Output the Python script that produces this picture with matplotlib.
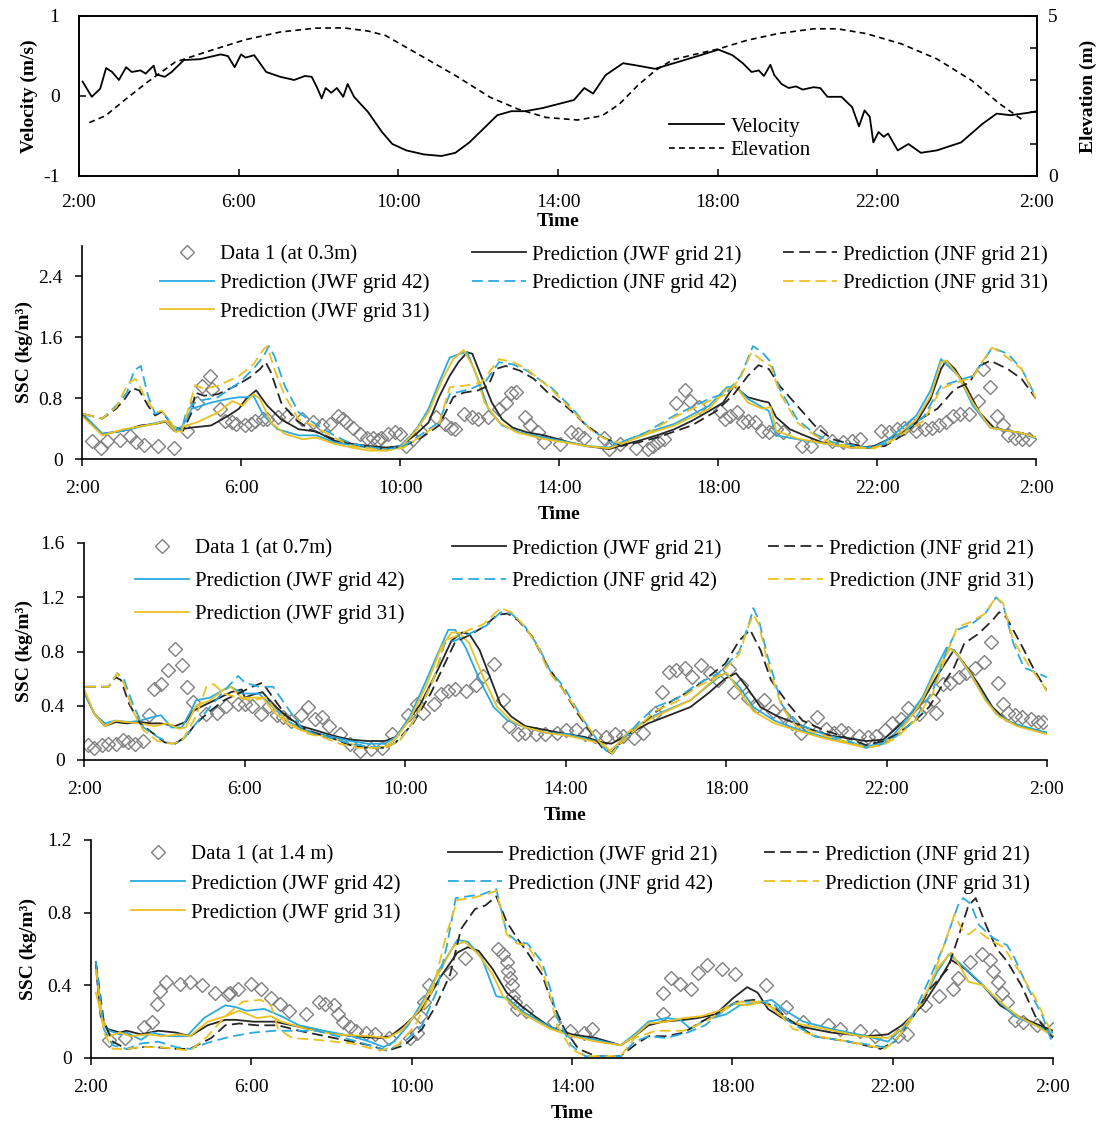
import matplotlib
matplotlib.use('Agg')
import matplotlib.pyplot as plt

plt.rcParams['font.family'] = ['Liberation Serif', 'DejaVu Serif']

W, H = 1101, 1126

# time axis: hours after 2:00
hour_ticks = [0, 4, 8, 12, 16, 20, 24]
hour_labels = ['2:00', '6:00', '10:00', '14:00', '18:00', '22:00', '2:00']

# ---- top panel: tidal velocity (m/s) and elevation (m)
velocity = [(0.09, 0.18), (0.32, -0.01), (0.53, 0.09), (0.68, 0.35), (0.83, 0.30), (1.0, 0.2),
            (1.18, 0.36), (1.32, 0.30), (1.54, 0.32), (1.67, 0.28), (1.87, 0.38), (1.93, 0.27),
            (2.15, 0.24), (2.32, 0.30), (2.63, 0.45), (3.03, 0.46), (3.55, 0.52), (3.73, 0.50),
            (3.9, 0.36), (4.06, 0.52), (4.17, 0.48), (4.39, 0.51), (4.69, 0.30), (5.04, 0.24),
            (5.39, 0.20), (5.66, 0.25), (5.83, 0.24), (5.96, 0.11), (6.08, -0.03), (6.18, 0.10),
            (6.32, 0.04), (6.46, 0.10), (6.62, -0.01), (6.73, 0.15), (6.89, -0.01), (7.24, -0.20),
            (7.59, -0.45), (7.85, -0.60), (8.2, -0.68), (8.64, -0.73), (9.08, -0.75), (9.43, -0.71),
            (9.78, -0.58), (10.13, -0.41), (10.48, -0.24), (10.83, -0.19), (11.18, -0.19),
            (11.62, -0.15), (12.4, -0.05), (12.66, 0.10), (12.88, 0.03), (13.19, 0.26), (13.63, 0.41),
            (13.99, 0.38), (14.43, 0.34), (15.04, 0.43), (15.57, 0.51), (16.02, 0.58), (16.37, 0.51),
            (16.63, 0.41), (16.85, 0.30), (17.03, 0.32), (17.16, 0.25), (17.32, 0.39), (17.42, 0.26),
            (17.6, 0.15), (17.78, 0.10), (17.96, 0.12), (18.13, 0.08), (18.4, 0.11), (18.57, 0.10),
            (18.75, -0.01), (19.1, -0.01), (19.37, -0.14), (19.54, -0.38), (19.68, -0.18),
            (19.81, -0.26), (19.9, -0.58), (20.03, -0.45), (20.16, -0.51), (20.27, -0.47),
            (20.51, -0.68), (20.78, -0.60), (21.09, -0.71), (21.49, -0.68), (22.1, -0.58),
            (22.63, -0.35), (22.99, -0.22), (23.34, -0.24), (23.78, -0.21), (24.0, -0.19)]
elevation = [(0.26, 1.67), (0.66, 1.88), (1.18, 2.41), (1.71, 2.93), (2.41, 3.56), (3.29, 3.92),
             (4.17, 4.26), (5.04, 4.50), (5.92, 4.62), (6.62, 4.63), (7.24, 4.53), (7.68, 4.39),
             (8.55, 3.77), (9.43, 3.14), (10.3, 2.46), (11.0, 2.09), (11.7, 1.83), (12.49, 1.75),
             (13.1, 1.88), (13.54, 2.25), (13.99, 2.82), (14.43, 3.29), (14.87, 3.63), (15.49, 3.82),
             (16.02, 3.97), (16.73, 4.24), (17.51, 4.45), (18.4, 4.60), (19.0, 4.60), (19.72, 4.45),
             (20.6, 4.13), (21.49, 3.66), (22.37, 2.98), (23.07, 2.25), (23.69, 1.71)]

# ---- SSC at 0.3 m
d03_data = [(0.26, 0.24), (0.47, 0.15), (0.64, 0.23), (0.95, 0.25), (1.22, 0.30), (1.35, 0.22),
            (1.57, 0.18), (1.92, 0.17), (2.32, 0.14), (2.63, 0.37), (2.89, 0.74), (3.03, 0.96),
            (3.23, 1.09), (3.27, 0.92), (3.47, 0.66), (3.60, 0.50), (3.78, 0.48), (3.88, 0.46),
            (4.09, 0.44), (4.24, 0.46), (4.35, 0.50), (4.55, 0.52), (4.66, 0.52), (4.92, 0.55),
            (5.15, 0.57), (5.54, 0.52), (5.81, 0.48), (6.03, 0.44), (6.25, 0.46), (6.43, 0.57),
            (6.56, 0.52), (6.65, 0.48), (6.82, 0.41), (7.00, 0.33), (7.18, 0.28), (7.31, 0.27),
            (7.44, 0.25), (7.53, 0.28), (7.71, 0.33), (7.88, 0.36), (8.01, 0.33), (8.15, 0.17),
            (8.32, 0.26), (8.50, 0.37), (8.90, 0.55), (9.12, 0.46), (9.29, 0.41), (9.38, 0.40),
            (9.60, 0.59), (9.82, 0.55), (9.96, 0.52), (10.22, 0.55), (10.49, 0.66), (10.66, 0.74),
            (10.79, 0.87), (10.93, 0.88), (11.15, 0.55), (11.28, 0.44), (11.46, 0.35), (11.63, 0.22),
            (12.03, 0.20), (12.29, 0.35), (12.47, 0.33), (12.64, 0.28), (13.13, 0.28), (13.26, 0.13),
            (13.53, 0.20), (13.93, 0.15), (14.23, 0.13), (14.37, 0.17), (14.5, 0.22), (14.63, 0.26),
            (14.94, 0.74), (15.16, 0.90), (15.3, 0.76), (15.52, 0.68), (16.05, 0.63), (16.18, 0.52),
            (16.31, 0.57), (16.49, 0.61), (16.62, 0.48), (16.75, 0.50), (16.93, 0.48), (17.11, 0.37),
            (17.28, 0.35), (17.46, 0.39), (17.64, 0.35), (18.12, 0.17), (18.34, 0.17), (18.56, 0.35),
            (18.87, 0.24), (19.14, 0.22), (19.36, 0.24), (19.58, 0.26), (20.11, 0.37), (20.29, 0.35),
            (20.51, 0.39), (20.68, 0.41), (20.9, 0.44), (20.99, 0.37), (21.21, 0.39), (21.39, 0.41),
            (21.57, 0.44), (21.74, 0.48), (21.92, 0.57), (22.1, 0.59), (22.32, 0.59), (22.54, 0.76),
            (22.67, 1.18), (22.85, 0.94), (23.02, 0.57), (23.16, 0.44), (23.29, 0.31), (23.47, 0.28),
            (23.64, 0.26), (23.82, 0.26)]
d03_jwf21 = [(0.03, 0.57), (0.51, 0.33), (1.04, 0.37), (1.48, 0.44), (1.84, 0.46), (2.1, 0.49),
             (2.32, 0.37), (2.5, 0.39), (2.72, 0.41), (3.25, 0.44), (3.69, 0.57), (3.95, 0.66),
             (4.13, 0.79), (4.38, 0.90), (4.66, 0.70), (5.01, 0.52), (5.45, 0.39), (5.9, 0.36),
             (6.34, 0.24), (6.78, 0.20), (7.22, 0.17), (7.66, 0.15), (8.01, 0.17), (8.37, 0.31),
             (8.72, 0.48), (8.98, 0.81), (9.25, 1.09), (9.47, 1.27), (9.69, 1.40), (9.82, 1.38),
             (10.04, 1.09), (10.31, 0.74), (10.57, 0.52), (10.84, 0.41), (11.19, 0.35), (11.63, 0.31),
             (12.25, 0.22), (12.69, 0.17), (13.26, 0.13), (13.57, 0.18), (14.01, 0.24), (14.46, 0.31),
             (14.9, 0.39), (15.34, 0.50), (15.78, 0.63), (16.13, 0.74), (16.4, 0.96), (16.75, 0.81),
             (17.11, 0.76), (17.28, 0.74), (17.46, 0.55), (17.81, 0.39), (18.17, 0.31), (18.61, 0.22),
             (19.05, 0.17), (19.58, 0.15), (19.93, 0.17), (20.29, 0.26), (20.64, 0.35), (20.99, 0.48),
             (21.35, 0.79), (21.61, 1.18), (21.74, 1.29), (21.96, 1.18), (22.23, 0.96), (22.58, 0.61),
             (22.94, 0.41), (23.29, 0.37), (23.64, 0.34), (24.0, 0.28)]
d03_jwf42 = [(0.03, 0.59), (0.51, 0.33), (1.04, 0.37), (1.84, 0.47), (2.1, 0.50), (2.37, 0.37),
             (2.54, 0.44), (2.76, 0.66), (3.25, 0.74), (3.69, 0.79), (3.95, 0.81), (4.13, 0.81),
             (4.31, 0.83), (4.57, 0.57), (4.92, 0.39), (5.45, 0.31), (5.9, 0.31), (6.34, 0.22),
             (6.78, 0.18), (7.22, 0.15), (7.66, 0.13), (8.01, 0.17), (8.37, 0.35), (8.72, 0.66),
             (8.98, 1.00), (9.25, 1.33), (9.51, 1.38), (9.69, 1.40), (9.96, 1.05), (10.22, 0.66),
             (10.57, 0.44), (11.01, 0.35), (11.63, 0.28), (12.25, 0.22), (12.69, 0.17), (13.26, 0.15),
             (13.57, 0.22), (14.23, 0.35), (14.9, 0.46), (15.78, 0.70), (16.22, 0.94), (16.44, 0.96),
             (16.75, 0.79), (17.11, 0.68), (17.28, 0.63), (17.46, 0.31), (17.99, 0.26), (18.7, 0.20),
             (19.32, 0.15), (19.93, 0.15), (20.29, 0.26), (20.99, 0.57), (21.35, 0.90), (21.61, 1.31),
             (21.79, 1.22), (22.05, 1.09), (22.41, 0.70), (22.85, 0.41), (23.29, 0.37), (23.64, 0.34),
             (24.0, 0.27)]
d03_jwf31 = [(0.03, 0.55), (0.51, 0.31), (1.04, 0.39), (1.84, 0.46), (2.1, 0.50), (2.37, 0.35),
             (2.63, 0.44), (2.89, 0.48), (3.42, 0.61), (3.78, 0.76), (4.04, 0.70), (4.31, 0.85),
             (4.48, 0.79), (4.75, 0.48), (5.1, 0.33), (5.54, 0.26), (5.9, 0.28), (6.34, 0.20),
             (6.78, 0.15), (7.22, 0.11), (7.66, 0.11), (8.01, 0.15), (8.37, 0.35), (8.72, 0.61),
             (9.07, 1.05), (9.34, 1.31), (9.6, 1.43), (9.87, 1.18), (10.13, 0.74), (10.49, 0.48),
             (10.93, 0.35), (11.63, 0.26), (12.25, 0.21), (12.69, 0.17), (13.26, 0.14), (13.57, 0.20),
             (14.23, 0.33), (14.9, 0.44), (15.78, 0.66), (16.22, 0.92), (16.44, 0.96), (16.75, 0.74),
             (17.11, 0.66), (17.33, 0.68), (17.46, 0.37), (17.99, 0.27), (18.7, 0.20), (19.32, 0.15),
             (19.93, 0.14), (20.29, 0.22), (20.99, 0.52), (21.35, 0.83), (21.61, 1.27), (21.74, 1.29),
             (22.05, 1.09), (22.41, 0.74), (22.85, 0.41), (23.29, 0.37), (23.64, 0.34), (24.0, 0.28)]
d03_jnf21 = [(0.03, 0.59), (0.51, 0.53), (0.86, 0.66), (1.08, 0.79), (1.26, 0.93), (1.44, 0.90),
             (1.66, 0.70), (1.84, 0.57), (2.01, 0.62), (2.28, 0.44), (2.54, 0.37), (2.76, 0.61),
             (2.85, 0.87), (3.07, 0.83), (3.42, 0.85), (3.87, 0.96), (4.22, 1.07), (4.48, 1.18),
             (4.62, 1.27), (4.75, 1.14), (5.01, 0.74), (5.37, 0.52), (5.72, 0.39), (6.34, 0.26),
             (6.78, 0.20), (7.22, 0.15), (7.66, 0.13), (8.1, 0.17), (8.54, 0.28), (8.98, 0.44),
             (9.34, 0.81), (9.6, 0.87), (9.96, 0.90), (10.22, 0.96), (10.4, 1.18), (10.66, 1.22),
             (11.01, 1.16), (11.37, 1.05), (11.72, 0.87), (12.25, 0.66), (12.69, 0.44), (13.13, 0.28),
             (13.57, 0.17), (14.01, 0.22), (14.46, 0.28), (15.34, 0.44), (15.96, 0.63), (16.4, 0.85),
             (16.75, 1.09), (17.02, 1.23), (17.28, 1.18), (17.55, 0.96), (17.99, 0.70), (18.43, 0.44),
             (18.87, 0.26), (19.32, 0.20), (19.76, 0.15), (20.2, 0.17), (20.64, 0.31), (21.08, 0.52),
             (21.52, 0.66), (21.96, 0.92), (22.32, 1.00), (22.58, 1.22), (22.85, 1.29), (23.29, 1.18),
             (23.64, 1.05), (24.0, 0.79)]
d03_jnf42 = [(0.03, 0.59), (0.51, 0.53), (0.86, 0.70), (1.13, 0.87), (1.31, 1.16), (1.48, 1.22),
             (1.66, 0.83), (1.84, 0.59), (2.01, 0.63), (2.28, 0.44), (2.5, 0.37), (2.63, 0.63),
             (2.89, 0.76), (3.42, 0.81), (3.95, 1.00), (4.31, 1.18), (4.57, 1.35), (4.7, 1.48),
             (4.84, 1.35), (5.1, 0.96), (5.45, 0.61), (5.81, 0.48), (6.34, 0.31), (6.78, 0.20),
             (7.66, 0.12), (8.1, 0.17), (8.98, 0.48), (9.25, 0.85), (9.78, 0.92), (10.13, 1.00),
             (10.49, 1.27), (10.84, 1.24), (11.19, 1.16), (11.54, 1.03), (11.8, 0.94), (12.34, 0.66),
             (12.78, 0.39), (13.13, 0.28), (13.4, 0.20), (13.57, 0.22), (14.19, 0.35), (14.9, 0.57),
             (15.78, 0.79), (16.22, 0.87), (16.57, 1.09), (16.88, 1.48), (17.11, 1.40), (17.33, 1.27),
             (17.55, 0.92), (17.99, 0.52), (18.43, 0.33), (18.87, 0.22), (19.76, 0.15), (20.2, 0.20),
             (20.64, 0.35), (21.17, 0.55), (21.61, 0.96), (21.87, 1.00), (22.41, 1.09), (22.67, 1.27),
             (22.89, 1.46), (23.29, 1.38), (23.64, 1.18), (24.0, 0.81)]
d03_jnf31 = [(0.03, 0.59), (0.51, 0.53), (0.86, 0.68), (1.17, 1.00), (1.35, 1.05), (1.57, 0.83),
             (1.84, 0.61), (2.01, 0.63), (2.28, 0.44), (2.5, 0.35), (2.63, 0.57), (2.85, 0.97),
             (3.07, 0.92), (3.42, 0.96), (3.95, 1.09), (4.31, 1.24), (4.57, 1.44), (4.66, 1.48),
             (4.84, 1.18), (5.1, 0.83), (5.45, 0.52), (5.81, 0.44), (6.34, 0.28), (6.78, 0.17),
             (7.66, 0.11), (8.1, 0.15), (8.98, 0.46), (9.25, 0.94), (9.6, 0.96), (10.04, 1.00),
             (10.49, 1.31), (10.84, 1.27), (11.19, 1.18), (11.54, 1.03), (11.8, 0.92), (12.34, 0.63),
             (12.78, 0.39), (13.13, 0.27), (13.57, 0.20), (14.19, 0.33), (14.9, 0.55), (15.78, 0.76),
             (16.22, 0.85), (16.57, 1.07), (16.84, 1.40), (17.11, 1.29), (17.33, 1.22), (17.55, 0.87),
             (17.99, 0.48), (18.43, 0.31), (18.87, 0.20), (19.76, 0.14), (20.2, 0.18), (20.64, 0.33),
             (21.17, 0.50), (21.61, 0.92), (21.87, 0.98), (22.41, 1.07), (22.67, 1.29), (22.89, 1.46),
             (23.11, 1.40), (23.64, 1.18), (24.0, 0.79)]

# ---- SSC at 0.7 m
d07_data = [(0.09, 0.11), (0.24, 0.09), (0.44, 0.11), (0.61, 0.12), (0.79, 0.12), (0.96, 0.15),
            (1.09, 0.13), (1.27, 0.12), (1.48, 0.14), (1.61, 0.33), (1.75, 0.52), (1.92, 0.56),
            (2.09, 0.66), (2.27, 0.82), (2.44, 0.70), (2.57, 0.54), (2.71, 0.43), (3.05, 0.34),
            (3.32, 0.35), (3.53, 0.40), (3.84, 0.41), (4.01, 0.41), (4.19, 0.40), (4.41, 0.34),
            (4.62, 0.40), (4.8, 0.33), (4.97, 0.32), (5.15, 0.29), (5.41, 0.33), (5.58, 0.39),
            (5.76, 0.30), (5.93, 0.32), (6.11, 0.25), (6.37, 0.19), (6.63, 0.12), (6.89, 0.07),
            (7.16, 0.08), (7.42, 0.09), (7.68, 0.19), (8.07, 0.33), (8.29, 0.41), (8.46, 0.35),
            (8.73, 0.41), (8.9, 0.49), (9.08, 0.51), (9.25, 0.52), (9.51, 0.51), (9.77, 0.55),
            (9.95, 0.62), (10.21, 0.71), (10.43, 0.44), (10.6, 0.25), (10.82, 0.19), (11.0, 0.20),
            (11.26, 0.19), (11.48, 0.19), (11.78, 0.20), (12.0, 0.22), (12.26, 0.22), (12.48, 0.19),
            (12.74, 0.18), (13.01, 0.17), (13.23, 0.19), (13.44, 0.18), (13.71, 0.16), (13.93, 0.20),
            (14.23, 0.35), (14.41, 0.50), (14.58, 0.65), (14.76, 0.66), (14.98, 0.68), (15.15, 0.61),
            (15.37, 0.70), (15.59, 0.64), (15.81, 0.59), (16.07, 0.67), (16.2, 0.50), (16.38, 0.55),
            (16.55, 0.46), (16.77, 0.40), (16.95, 0.44), (17.17, 0.36), (17.43, 0.33), (17.65, 0.27),
            (17.87, 0.20), (18.04, 0.24), (18.26, 0.32), (18.48, 0.23), (18.7, 0.20), (18.87, 0.22),
            (19.05, 0.20), (19.31, 0.18), (19.53, 0.17), (19.75, 0.18), (19.97, 0.22), (20.14, 0.27),
            (20.36, 0.30), (20.54, 0.38), (20.8, 0.34), (20.98, 0.40), (21.15, 0.44), (21.24, 0.35),
            (21.41, 0.56), (21.59, 0.57), (21.81, 0.61), (21.98, 0.64), (22.2, 0.68), (22.42, 0.72),
            (22.6, 0.87), (22.77, 0.57), (22.9, 0.41), (23.03, 0.35), (23.21, 0.33), (23.38, 0.32),
            (23.6, 0.30), (23.78, 0.28), (23.91, 0.28)]
d07_jwf21 = [(0.02, 0.49), (0.26, 0.34), (0.52, 0.25), (0.79, 0.28), (1.05, 0.27), (1.4, 0.28),
             (1.66, 0.27), (1.92, 0.27), (2.27, 0.25), (2.53, 0.28), (2.71, 0.36), (2.97, 0.40),
             (3.32, 0.45), (3.66, 0.50), (3.93, 0.52), (4.01, 0.46), (4.19, 0.48), (4.45, 0.50),
             (4.71, 0.41), (5.06, 0.32), (5.41, 0.25), (5.76, 0.22), (6.2, 0.18), (6.63, 0.15),
             (7.07, 0.14), (7.5, 0.14), (7.77, 0.17), (8.03, 0.27), (8.38, 0.41), (8.81, 0.66),
             (9.16, 0.88), (9.42, 0.94), (9.6, 0.93), (9.86, 0.81), (10.12, 0.61), (10.38, 0.41),
             (10.65, 0.32), (11.0, 0.25), (11.52, 0.22), (12.04, 0.19), (12.48, 0.17), (12.92, 0.13),
             (13.14, 0.12), (13.27, 0.14), (13.62, 0.20), (14.06, 0.27), (14.5, 0.32), (15.11, 0.39),
             (15.55, 0.49), (15.98, 0.60), (16.25, 0.64), (16.51, 0.54), (16.86, 0.39), (17.3, 0.32),
             (17.74, 0.27), (18.17, 0.22), (18.61, 0.18), (19.05, 0.16), (19.49, 0.14), (19.92, 0.15),
             (20.19, 0.22), (20.54, 0.32), (20.89, 0.43), (21.24, 0.61), (21.59, 0.77), (21.68, 0.81),
             (21.94, 0.71), (22.29, 0.56), (22.64, 0.39), (22.99, 0.29), (23.43, 0.24), (24.0, 0.20)]
d07_jwf42 = [(0.02, 0.49), (0.26, 0.34), (0.52, 0.27), (0.79, 0.29), (1.13, 0.28), (1.4, 0.29),
             (1.75, 0.32), (1.92, 0.33), (2.18, 0.24), (2.44, 0.24), (2.66, 0.36), (2.79, 0.44),
             (3.14, 0.46), (3.49, 0.52), (3.66, 0.54), (3.93, 0.49), (4.1, 0.49), (4.36, 0.49),
             (4.71, 0.39), (5.06, 0.29), (5.41, 0.23), (5.76, 0.20), (6.2, 0.17), (6.63, 0.14),
             (7.07, 0.12), (7.5, 0.12), (7.77, 0.17), (8.12, 0.32), (8.46, 0.54), (8.81, 0.78),
             (9.08, 0.96), (9.25, 0.96), (9.51, 0.83), (9.86, 0.59), (10.21, 0.39), (10.56, 0.29),
             (11.0, 0.24), (11.52, 0.20), (12.04, 0.19), (12.48, 0.16), (12.92, 0.12), (13.14, 0.05),
             (13.31, 0.12), (13.62, 0.22), (14.23, 0.33), (15.11, 0.44), (15.81, 0.61), (15.98, 0.64),
             (16.33, 0.54), (16.68, 0.39), (17.21, 0.29), (17.74, 0.23), (18.44, 0.17), (19.05, 0.13),
             (19.49, 0.10), (19.84, 0.12), (20.19, 0.19), (20.54, 0.32), (20.89, 0.46), (21.24, 0.68),
             (21.5, 0.83), (21.68, 0.81), (22.03, 0.66), (22.38, 0.49), (22.73, 0.34), (23.16, 0.27),
             (24.0, 0.20)]
d07_jwf31 = [(0.02, 0.51), (0.26, 0.34), (0.52, 0.25), (0.79, 0.29), (1.05, 0.28), (1.4, 0.27),
             (1.75, 0.25), (2.09, 0.27), (2.36, 0.23), (2.53, 0.24), (2.79, 0.40), (3.14, 0.44),
             (3.49, 0.52), (3.66, 0.54), (3.93, 0.46), (4.19, 0.46), (4.45, 0.46), (4.71, 0.36),
             (5.06, 0.27), (5.41, 0.22), (5.76, 0.19), (6.2, 0.16), (6.63, 0.12), (7.07, 0.09),
             (7.5, 0.10), (7.77, 0.16), (8.12, 0.30), (8.55, 0.56), (8.9, 0.83), (9.16, 0.94),
             (9.34, 0.94), (9.6, 0.86), (9.95, 0.61), (10.3, 0.39), (10.65, 0.29), (11.0, 0.24),
             (11.52, 0.20), (12.04, 0.18), (12.48, 0.15), (12.92, 0.12), (13.1, 0.07), (13.31, 0.12),
             (13.62, 0.22), (14.23, 0.32), (15.11, 0.44), (15.81, 0.62), (16.03, 0.64), (16.33, 0.51),
             (16.68, 0.36), (17.21, 0.27), (17.74, 0.22), (18.44, 0.16), (19.05, 0.12), (19.49, 0.09),
             (19.84, 0.11), (20.19, 0.17), (20.54, 0.29), (20.89, 0.44), (21.24, 0.66), (21.59, 0.82),
             (21.76, 0.78), (22.11, 0.63), (22.46, 0.44), (22.81, 0.32), (23.25, 0.25), (24.0, 0.19)]
d07_jnf21 = [(0.02, 0.54), (0.44, 0.54), (0.61, 0.54), (0.79, 0.61), (0.92, 0.59), (1.13, 0.41),
             (1.4, 0.27), (1.75, 0.19), (2.01, 0.13), (2.27, 0.12), (2.53, 0.17), (2.79, 0.27),
             (3.14, 0.36), (3.49, 0.44), (3.84, 0.49), (4.19, 0.54), (4.45, 0.57), (4.71, 0.46),
             (5.06, 0.32), (5.41, 0.24), (5.76, 0.20), (6.2, 0.16), (6.63, 0.11), (7.07, 0.09),
             (7.5, 0.09), (7.77, 0.13), (8.2, 0.27), (8.64, 0.49), (8.99, 0.71), (9.25, 0.87),
             (9.6, 0.92), (9.95, 0.98), (10.3, 1.07), (10.56, 1.08), (10.82, 1.03), (11.17, 0.91),
             (11.52, 0.71), (11.96, 0.51), (12.31, 0.34), (12.66, 0.19), (12.92, 0.09), (13.14, 0.05),
             (13.36, 0.12), (13.8, 0.24), (14.23, 0.35), (14.67, 0.44), (15.11, 0.51), (15.55, 0.61),
             (15.98, 0.71), (16.33, 0.88), (16.6, 0.96), (16.86, 0.81), (17.12, 0.59), (17.56, 0.41),
             (17.91, 0.29), (18.44, 0.22), (19.05, 0.16), (19.49, 0.11), (19.92, 0.14), (20.27, 0.19),
             (20.71, 0.29), (21.06, 0.39), (21.41, 0.56), (21.68, 0.68), (21.94, 0.86), (22.29, 0.93),
             (22.64, 1.03), (22.81, 1.09), (22.99, 1.05), (23.34, 0.86), (23.69, 0.66), (24.0, 0.51)]
d07_jnf42 = [(0.02, 0.54), (0.61, 0.54), (0.83, 0.64), (1.0, 0.59), (1.22, 0.41), (1.48, 0.24),
             (1.83, 0.17), (2.18, 0.12), (2.44, 0.14), (2.79, 0.27), (3.14, 0.39), (3.49, 0.51),
             (3.84, 0.62), (4.01, 0.57), (4.36, 0.54), (4.71, 0.54), (5.06, 0.39), (5.41, 0.24),
             (5.76, 0.19), (6.2, 0.16), (6.63, 0.12), (7.07, 0.10), (7.5, 0.09), (7.86, 0.14),
             (8.29, 0.32), (8.73, 0.61), (8.99, 0.86), (9.25, 0.88), (9.6, 0.93), (10.03, 0.99),
             (10.38, 1.09), (10.65, 1.08), (11.0, 0.98), (11.34, 0.83), (11.61, 0.66), (11.96, 0.54),
             (12.39, 0.32), (12.74, 0.17), (13.01, 0.07), (13.16, 0.04), (13.36, 0.12), (13.8, 0.27),
             (14.23, 0.39), (14.76, 0.45), (15.28, 0.56), (15.81, 0.64), (16.33, 0.80), (16.6, 1.03),
             (16.68, 1.12), (16.82, 1.03), (17.04, 0.76), (17.39, 0.41), (17.74, 0.27), (18.44, 0.19),
             (19.05, 0.14), (19.49, 0.09), (19.92, 0.12), (20.27, 0.18), (20.71, 0.30), (21.15, 0.51),
             (21.5, 0.81), (21.76, 0.96), (22.11, 1.00), (22.46, 1.08), (22.73, 1.20), (22.9, 1.15),
             (23.16, 0.86), (23.43, 0.68), (23.69, 0.65), (24.0, 0.61)]
d07_jnf31 = [(0.02, 0.54), (0.61, 0.54), (0.83, 0.64), (1.0, 0.56), (1.22, 0.36), (1.48, 0.22),
             (1.83, 0.14), (2.18, 0.12), (2.44, 0.14), (2.79, 0.32), (3.05, 0.54), (3.23, 0.56),
             (3.49, 0.49), (3.84, 0.46), (4.19, 0.44), (4.54, 0.46), (4.8, 0.36), (5.15, 0.27),
             (5.5, 0.20), (5.93, 0.17), (6.37, 0.12), (6.81, 0.09), (7.5, 0.09), (7.86, 0.14),
             (8.29, 0.32), (8.73, 0.61), (8.99, 0.88), (9.25, 0.91), (9.6, 0.96), (9.95, 1.00),
             (10.38, 1.12), (10.65, 1.09), (11.0, 0.98), (11.34, 0.82), (11.56, 0.66), (11.96, 0.51),
             (12.39, 0.32), (12.74, 0.17), (13.01, 0.08), (13.16, 0.05), (13.36, 0.12), (13.8, 0.24),
             (14.23, 0.36), (14.76, 0.43), (15.28, 0.54), (15.81, 0.62), (16.33, 0.78), (16.55, 0.98),
             (16.68, 1.07), (16.82, 1.00), (17.04, 0.71), (17.39, 0.39), (17.74, 0.25), (18.44, 0.18),
             (19.05, 0.13), (19.49, 0.09), (19.92, 0.11), (20.27, 0.17), (20.71, 0.29), (21.15, 0.49),
             (21.5, 0.78), (21.76, 0.98), (22.11, 1.02), (22.46, 1.08), (22.73, 1.20), (22.9, 1.16),
             (23.16, 0.88), (23.52, 0.71), (24.0, 0.51)]

# ---- SSC at 1.4 m
d14_data = [(0.46, 0.10), (0.85, 0.11), (1.33, 0.17), (1.51, 0.20), (1.64, 0.30), (1.73, 0.37),
            (1.86, 0.42), (2.21, 0.41), (2.46, 0.42), (2.78, 0.40), (3.09, 0.36), (3.42, 0.35),
            (3.48, 0.36), (3.66, 0.38), (3.98, 0.41), (4.23, 0.38), (4.49, 0.33), (4.71, 0.30),
            (4.93, 0.26), (5.37, 0.24), (5.68, 0.31), (5.85, 0.30), (6.07, 0.29), (6.16, 0.24),
            (6.29, 0.20), (6.46, 0.17), (6.6, 0.15), (6.86, 0.14), (7.08, 0.13), (7.43, 0.11),
            (7.96, 0.11), (8.13, 0.14), (8.22, 0.23), (8.31, 0.31), (8.42, 0.40), (8.96, 0.47),
            (9.32, 0.55), (10.15, 0.60), (10.28, 0.57), (10.37, 0.53), (10.41, 0.48), (10.46, 0.44),
            (10.5, 0.40), (10.54, 0.34), (10.59, 0.31), (10.63, 0.27), (10.85, 0.26), (11.54, 0.20),
            (11.94, 0.15), (12.29, 0.14), (12.51, 0.16), (14.26, 0.24), (14.26, 0.36), (14.48, 0.44),
            (14.7, 0.41), (14.96, 0.38), (15.14, 0.47), (15.36, 0.51), (15.75, 0.49), (16.06, 0.46),
            (16.85, 0.40), (17.33, 0.28), (17.77, 0.20), (18.39, 0.18), (18.69, 0.16), (19.18, 0.15),
            (19.57, 0.12), (20.14, 0.12), (20.36, 0.13), (20.8, 0.29), (21.15, 0.34), (21.5, 0.38),
            (21.63, 0.44), (21.94, 0.53), (22.23, 0.57), (22.42, 0.54), (22.51, 0.48), (22.64, 0.42),
            (22.73, 0.36), (22.86, 0.31), (23.04, 0.21), (23.25, 0.20), (23.61, 0.18), (24.0, 0.16)]
d14_jwf21 = [(0.12, 0.51), (0.24, 0.23), (0.41, 0.16), (0.72, 0.14), (0.89, 0.15), (1.25, 0.13),
             (1.68, 0.15), (2.12, 0.14), (2.47, 0.12), (2.91, 0.18), (3.35, 0.21), (3.61, 0.21),
             (4.05, 0.20), (4.58, 0.20), (5.02, 0.18), (5.63, 0.15), (6.51, 0.12), (7.21, 0.11),
             (7.47, 0.12), (7.82, 0.18), (8.26, 0.27), (8.7, 0.44), (9.14, 0.58), (9.4, 0.61),
             (9.67, 0.59), (10.02, 0.49), (10.37, 0.36), (10.72, 0.29), (11.07, 0.23), (11.46, 0.17),
             (12.0, 0.13), (12.6, 0.11), (13.21, 0.07), (13.56, 0.12), (13.91, 0.18), (14.26, 0.20),
             (14.79, 0.21), (15.14, 0.22), (15.58, 0.24), (16.02, 0.33), (16.37, 0.39), (16.63, 0.36),
             (16.89, 0.27), (17.25, 0.22), (17.77, 0.17), (18.47, 0.14), (19.35, 0.12), (19.88, 0.13),
             (20.23, 0.18), (20.75, 0.29), (21.19, 0.44), (21.46, 0.54), (21.81, 0.49), (22.25, 0.40),
             (22.68, 0.29), (23.12, 0.23), (23.56, 0.19), (24.0, 0.15)]
d14_jwf42 = [(0.12, 0.53), (0.28, 0.20), (0.46, 0.15), (0.72, 0.13), (0.89, 0.14), (1.25, 0.10),
             (1.51, 0.14), (1.95, 0.12), (2.39, 0.12), (2.82, 0.22), (3.35, 0.29), (3.61, 0.28),
             (3.88, 0.26), (4.32, 0.27), (4.75, 0.23), (5.19, 0.18), (5.81, 0.15), (6.51, 0.12),
             (6.95, 0.09), (7.3, 0.06), (7.56, 0.09), (7.91, 0.18), (8.35, 0.34), (8.7, 0.49),
             (9.14, 0.65), (9.4, 0.64), (9.75, 0.55), (10.11, 0.34), (10.37, 0.33), (10.81, 0.25),
             (11.46, 0.17), (12.0, 0.12), (12.6, 0.10), (13.21, 0.07), (13.56, 0.13), (13.91, 0.20),
             (14.35, 0.22), (14.7, 0.21), (14.96, 0.16), (15.32, 0.21), (15.84, 0.24), (16.19, 0.29),
             (16.54, 0.30), (16.98, 0.32), (17.33, 0.26), (17.77, 0.20), (18.47, 0.16), (19.35, 0.12),
             (19.88, 0.09), (20.23, 0.16), (20.75, 0.31), (21.1, 0.47), (21.4, 0.57), (21.63, 0.53),
             (22.07, 0.44), (22.51, 0.34), (23.04, 0.23), (23.56, 0.18), (24.0, 0.14)]
d14_jwf31 = [(0.12, 0.36), (0.28, 0.22), (0.46, 0.12), (0.72, 0.14), (0.98, 0.12), (1.42, 0.13),
             (1.77, 0.12), (2.21, 0.13), (2.47, 0.12), (2.91, 0.20), (3.35, 0.23), (3.7, 0.26),
             (4.14, 0.22), (4.49, 0.23), (4.75, 0.20), (5.37, 0.16), (6.07, 0.13), (6.95, 0.12),
             (7.39, 0.11), (7.74, 0.15), (8.18, 0.26), (8.61, 0.44), (9.05, 0.62), (9.32, 0.64),
             (9.67, 0.57), (10.02, 0.46), (10.28, 0.34), (10.72, 0.25), (11.46, 0.16), (12.0, 0.12),
             (12.6, 0.09), (13.21, 0.07), (13.56, 0.12), (13.91, 0.19), (14.35, 0.20), (14.79, 0.22),
             (15.23, 0.23), (15.67, 0.26), (16.02, 0.30), (16.37, 0.29), (16.81, 0.31), (17.16, 0.24),
             (17.6, 0.19), (18.3, 0.16), (19.18, 0.12), (19.88, 0.11), (20.23, 0.16), (20.75, 0.31),
             (21.1, 0.49), (21.46, 0.58), (21.72, 0.49), (21.89, 0.42), (22.25, 0.40), (22.68, 0.31),
             (23.12, 0.23), (23.56, 0.18), (24.0, 0.12)]
d14_jnf21 = [(0.12, 0.53), (0.32, 0.20), (0.54, 0.09), (0.89, 0.05), (1.25, 0.06), (1.6, 0.06),
             (2.12, 0.05), (2.47, 0.05), (3.0, 0.11), (3.35, 0.18), (3.7, 0.19), (4.14, 0.18),
             (4.67, 0.18), (5.19, 0.15), (6.07, 0.11), (6.95, 0.07), (7.39, 0.04), (7.82, 0.07),
             (8.26, 0.16), (8.61, 0.29), (8.96, 0.46), (9.23, 0.71), (9.58, 0.82), (9.84, 0.84),
             (10.11, 0.89), (10.37, 0.75), (10.63, 0.66), (10.89, 0.58), (11.25, 0.46), (11.46, 0.33),
             (11.81, 0.16), (12.16, 0.05), (12.6, 0.01), (13.21, 0.01), (13.56, 0.07), (13.91, 0.12),
             (14.35, 0.12), (14.79, 0.14), (15.23, 0.20), (15.67, 0.25), (16.11, 0.31), (16.54, 0.32),
             (16.98, 0.29), (17.42, 0.21), (18.04, 0.12), (18.91, 0.09), (19.7, 0.05), (20.05, 0.09),
             (20.49, 0.22), (20.93, 0.38), (21.37, 0.49), (21.63, 0.66), (21.89, 0.84), (22.07, 0.88),
             (22.33, 0.73), (22.6, 0.60), (22.86, 0.53), (23.21, 0.40), (23.56, 0.23), (24.0, 0.11)]
d14_jnf42 = [(0.12, 0.53), (0.32, 0.16), (0.54, 0.07), (0.89, 0.05), (1.25, 0.08), (1.68, 0.09),
             (2.12, 0.06), (2.47, 0.05), (3.0, 0.09), (3.53, 0.12), (4.05, 0.14), (4.58, 0.15),
             (5.11, 0.15), (5.63, 0.15), (6.33, 0.11), (6.95, 0.07), (7.39, 0.04), (7.82, 0.09),
             (8.26, 0.18), (8.61, 0.36), (8.88, 0.62), (9.1, 0.88), (9.4, 0.89), (9.75, 0.90),
             (10.11, 0.93), (10.37, 0.69), (10.63, 0.64), (10.89, 0.63), (11.25, 0.53), (11.46, 0.38),
             (11.63, 0.22), (11.98, 0.07), (12.33, 0.01), (13.21, 0.01), (13.56, 0.09), (13.91, 0.12),
             (14.35, 0.11), (14.88, 0.14), (15.32, 0.18), (15.84, 0.27), (16.11, 0.31), (16.72, 0.31),
             (17.07, 0.29), (17.42, 0.20), (18.04, 0.12), (18.91, 0.09), (19.79, 0.06), (20.05, 0.09),
             (20.49, 0.23), (20.93, 0.44), (21.28, 0.62), (21.63, 0.84), (21.76, 0.88), (21.94, 0.85),
             (22.16, 0.73), (22.51, 0.66), (22.86, 0.62), (23.04, 0.55), (23.39, 0.38), (23.74, 0.23),
             (24.0, 0.07)]
d14_jnf31 = [(0.12, 0.49), (0.32, 0.14), (0.54, 0.05), (0.89, 0.05), (1.25, 0.06), (1.68, 0.06),
             (2.12, 0.05), (2.47, 0.04), (2.91, 0.12), (3.35, 0.23), (3.79, 0.31), (4.23, 0.32),
             (4.49, 0.29), (4.67, 0.16), (5.02, 0.11), (5.63, 0.10), (6.51, 0.08), (7.21, 0.04),
             (7.65, 0.07), (8.09, 0.18), (8.53, 0.38), (8.88, 0.69), (9.14, 0.87), (9.49, 0.88),
             (9.84, 0.90), (10.11, 0.92), (10.37, 0.68), (10.63, 0.63), (10.89, 0.62), (11.25, 0.49),
             (11.46, 0.34), (11.63, 0.18), (11.98, 0.05), (12.33, 0.01), (13.21, 0.01), (13.56, 0.11),
             (14.09, 0.15), (14.79, 0.15), (15.32, 0.20), (15.84, 0.27), (16.19, 0.31), (16.72, 0.31),
             (17.07, 0.27), (17.51, 0.16), (18.12, 0.12), (18.91, 0.09), (19.79, 0.05), (20.05, 0.09),
             (20.49, 0.22), (20.93, 0.40), (21.28, 0.62), (21.54, 0.79), (21.72, 0.71), (21.89, 0.68),
             (22.07, 0.71), (22.42, 0.65), (22.77, 0.61), (23.12, 0.49), (23.56, 0.33), (24.0, 0.12)]

BLACK = '#262626'
BLUE = '#2AAAE0'
GOLD = '#EBC021'
GREY = '#808080'
FS = 14


def px_rect(left, right, top, bottom):
    return [left / W, 1 - bottom / H, (right - left) / W, (bottom - top) / H]


def xy(pairs):
    return [p[0] for p in pairs], [p[1] for p in pairs]


fig = plt.figure(figsize=(W / 100, H / 100), dpi=100)

# ---------------- velocity / elevation
ax1 = fig.add_axes(px_rect(79, 1037, 16, 176))
t, v = xy(velocity)
ax1.plot(t, v, color='black', lw=1.3, label='Velocity')
ax1.set_ylim(-1, 1)
ax1.set_yticks([-1, 0, 1])
ax1.set_yticklabels(['-1', '0', '1'])
ax1.tick_params(axis='y', direction='in', length=5, width=1.1, labelsize=FS, pad=14)
ax1.set_ylabel('Velocity (m/s)', fontsize=FS, fontweight='bold')
ax1.yaxis.set_label_coords(-0.052, 0.5)
ax1.yaxis.label.set_va('center')
ax1b = ax1.twinx()
t, e = xy(elevation)
ax1b.plot(t, e, color='black', lw=1.2, dashes=(3.5, 2.5), label='Elevation')
ax1b.set_ylim(0, 5)
ax1b.set_yticks([0, 1, 2, 3, 4, 5])
ax1b.set_yticklabels(['0', '', '', '', '', '5'])
ax1b.tick_params(axis='y', direction='in', length=5, width=1.1, labelsize=FS, pad=8)
ax1b.set_ylabel('Elevation (m)', fontsize=FS, fontweight='bold')
ax1b.yaxis.set_label_coords(1.054, 0.5)
ax1b.yaxis.label.set_va('center')
ax1.set_xlim(0, 24)
ax1.set_xticks(hour_ticks)
ax1.set_xticklabels(hour_labels)
ax1.tick_params(axis='x', direction='in', length=5, width=1.1, labelsize=FS, pad=13)
ax1.set_xlabel('Time', fontsize=FS, fontweight='bold')
ax1.xaxis.set_label_coords(0.5, -(221 - 176) / 160)
ax1.xaxis.label.set_va('center')
for ax in (ax1, ax1b):
    for s in ax.spines.values():
        s.set_linewidth(1.2)
h1, l1 = ax1.get_legend_handles_labels()
h2, l2 = ax1b.get_legend_handles_labels()
ax1.legend(h1 + h2, l1 + l2, loc='upper left', bbox_to_anchor=(669 / W, 1 - 117 / H),
           bbox_transform=fig.transFigure, frameon=False, fontsize=15, handlelength=2.65,
           handletextpad=0.3, labelspacing=0.2, borderpad=0, borderaxespad=0)


# ---------------- SSC panels
def ssc_panel(rect_px, ymax, yticks, ylabels, series, data, data_label, leg_xy, spacing,
              colspace, time_y, ylab_x):
    left, right, top, bottom = rect_px
    ax = fig.add_axes(px_rect(left, right, top, bottom))
    styles = [('Prediction (JWF grid 21)', BLACK, None),
              ('Prediction (JWF grid 42)', BLUE, None),
              ('Prediction (JWF grid 31)', GOLD, None),
              ('Prediction (JNF grid 21)', BLACK, (6, 3)),
              ('Prediction (JNF grid 42)', BLUE, (6, 3)),
              ('Prediction (JNF grid 31)', GOLD, (6, 3))]
    handles = {}
    t, s = xy(data)
    handles['data'] = ax.plot(t, s, ls='none', marker='D', ms=7.5, mfc='none', mec=GREY,
                              mew=1.0, label=data_label)[0]
    for (lab, col, dash), pts in zip(styles, series):
        t, s = xy(pts)
        kw = dict(color=col, lw=1.3, label=lab)
        if dash:
            kw['dashes'] = dash
        handles[lab] = ax.plot(t, s, **kw)[0]
    ax.set_ylim(0, ymax)
    ax.set_yticks(yticks)
    ax.set_yticklabels(ylabels)
    ax.tick_params(axis='y', direction='out', length=5, width=1.1, labelsize=FS, pad=9)
    ax.set_ylabel('SSC (kg/m³)', fontsize=FS, fontweight='bold')
    ax.yaxis.set_label_coords((ylab_x - left) / (right - left), 0.5)
    ax.yaxis.label.set_va('center')
    ax.set_xlim(0, 24)
    ax.set_xticks(hour_ticks)
    ax.set_xticklabels(hour_labels)
    ax.tick_params(axis='x', direction='out', length=5, width=1.1, labelsize=FS, pad=10)
    ax.set_xlabel('Time', fontsize=FS, fontweight='bold')
    ax.xaxis.set_label_coords(0.5, -(time_y - bottom) / (bottom - top))
    ax.xaxis.label.set_va('center')
    for k in ('top', 'right'):
        ax.spines[k].set_visible(False)
    for k in ('left', 'bottom'):
        ax.spines[k].set_linewidth(1.2)
    order = [handles['data'], handles['Prediction (JWF grid 42)'], handles['Prediction (JWF grid 31)'],
             handles['Prediction (JWF grid 21)'], handles['Prediction (JNF grid 42)'],
             handles['Prediction (JNF grid 21)'], handles['Prediction (JNF grid 31)']]
    ax.legend(order, [h.get_label() for h in order], ncol=3, loc='upper left',
              bbox_to_anchor=(leg_xy[0] / W, 1 - leg_xy[1] / H), bbox_transform=fig.transFigure,
              frameon=False, fontsize=15, handlelength=2.6, handletextpad=0.3,
              columnspacing=colspace, labelspacing=spacing, borderpad=0, borderaxespad=0)
    return ax


ssc_panel((82, 1036, 245.5, 459), 2.8, [0, 0.8, 1.6, 2.4], ['0', '0.8', '1.6', '2.4'],
          [d03_jwf21, d03_jwf42, d03_jwf31, d03_jnf21, d03_jnf42, d03_jnf31], d03_data,
          'Data 1 (at 0.3m)', (160, 245), 0.42, 2.0, 514, 24)
ssc_panel((84, 1047, 543, 760), 1.6, [0, 0.4, 0.8, 1.2, 1.6], ['0', '0.4', '0.8', '1.2', '1.6'],
          [d07_jwf21, d07_jwf42, d07_jwf31, d07_jnf21, d07_jnf42, d07_jnf31], d07_data,
          'Data 1 (at 0.7m)', (135, 539), 0.62, 2.25, 815, 24)
ssc_panel((91, 1053, 840, 1058), 1.2, [0, 0.4, 0.8, 1.2], ['0', '0.4', '0.8', '1.2'],
          [d14_jwf21, d14_jwf42, d14_jwf31, d14_jnf21, d14_jnf42, d14_jnf31], d14_data,
          'Data 1 (at 1.4 m)', (131, 845), 0.44, 2.25, 1113, 28)

fig.savefig('out.png', dpi=100)
